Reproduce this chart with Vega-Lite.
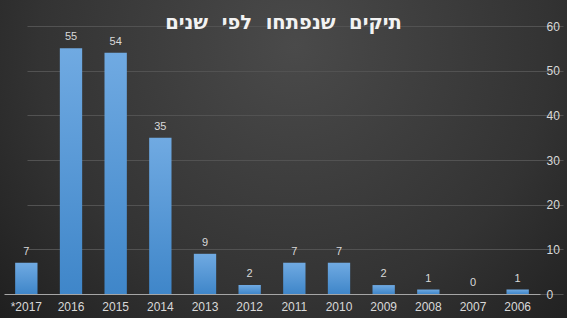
{
  "$schema": "https://vega.github.io/schema/vega-lite/v6.json",
  "width": 567,
  "height": 318,
  "autosize": {"type": "none"},
  "padding": 0,
  "background": "#262626",
  "title": {
    "text": "תיקים\u00a0 שנפתחו\u00a0 לפי\u00a0 שנים",
    "anchor": "middle",
    "frame": "group",
    "offset": -33,
    "font": "DejaVu Sans",
    "fontSize": 19.5,
    "fontWeight": "bold",
    "color": "#f2f2f2"
  },
  "config": {
    "view": {
      "stroke": null,
      "fill": {
        "gradient": "radial",
        "x1": 0.52, "y1": 0.3, "r1": 0,
        "x2": 0.52, "y2": 0.3, "r2": 0.75,
        "stops": [
          {"offset": 0, "color": "#4a4a4a"},
          {"offset": 0.6, "color": "#333333"},
          {"offset": 1, "color": "#1c1c1c"}
        ]
      }
    },
    "font": "Liberation Sans"
  },
  "data": {
    "values": [
      {"year": "\u200e*2017\u200e", "count": 7},
      {"year": "2016", "count": 55},
      {"year": "2015", "count": 54},
      {"year": "2014", "count": 35},
      {"year": "2013", "count": 9},
      {"year": "2012", "count": 2},
      {"year": "2011", "count": 7},
      {"year": "2010", "count": 7},
      {"year": "2009", "count": 2},
      {"year": "2008", "count": 1},
      {"year": "2007", "count": 0},
      {"year": "2006", "count": 1}
    ]
  },
  "encoding": {
    "x": {
      "field": "year",
      "type": "nominal",
      "sort": null,
      "scale": {"range": [4, 540], "paddingInner": 0.5, "paddingOuter": 0.25},
      "axis": {
        "title": null,
        "orient": "bottom",
        "offset": -24,
        "labelAngle": 0,
        "labelColor": "#d9d9d9",
        "labelFontSize": 12,
        "labelPadding": 7,
        "ticks": false,
        "domainColor": "#a6a6a6",
        "domainWidth": 1,
        "grid": false
      }
    },
    "y": {
      "field": "count",
      "type": "quantitative",
      "scale": {"domain": [0, 60], "range": [294, 26], "nice": false},
      "axis": {
        "title": null,
        "orient": "right",
        "offset": -27,
        "values": [0, 10, 20, 30, 40, 50, 60],
        "labelColor": "#d9d9d9",
        "labelFontSize": 12,
        "labelPadding": 6,
        "ticks": false,
        "domain": false,
        "grid": true,
        "gridColor": "#525252",
        "gridWidth": 1
      }
    }
  },
  "layer": [
    {
      "mark": {
        "type": "bar",
        "fill": {
          "gradient": "linear",
          "x1": 0, "y1": 0, "x2": 0, "y2": 1,
          "stops": [
            {"offset": 0, "color": "#70aae2"},
            {"offset": 1, "color": "#3f86c9"}
          ]
        }
      }
    },
    {
      "mark": {
        "type": "text",
        "baseline": "bottom",
        "dy": -6,
        "fontSize": 11,
        "color": "#d9d9d9"
      },
      "encoding": {
        "text": {"field": "count", "type": "quantitative"}
      }
    }
  ]
}
